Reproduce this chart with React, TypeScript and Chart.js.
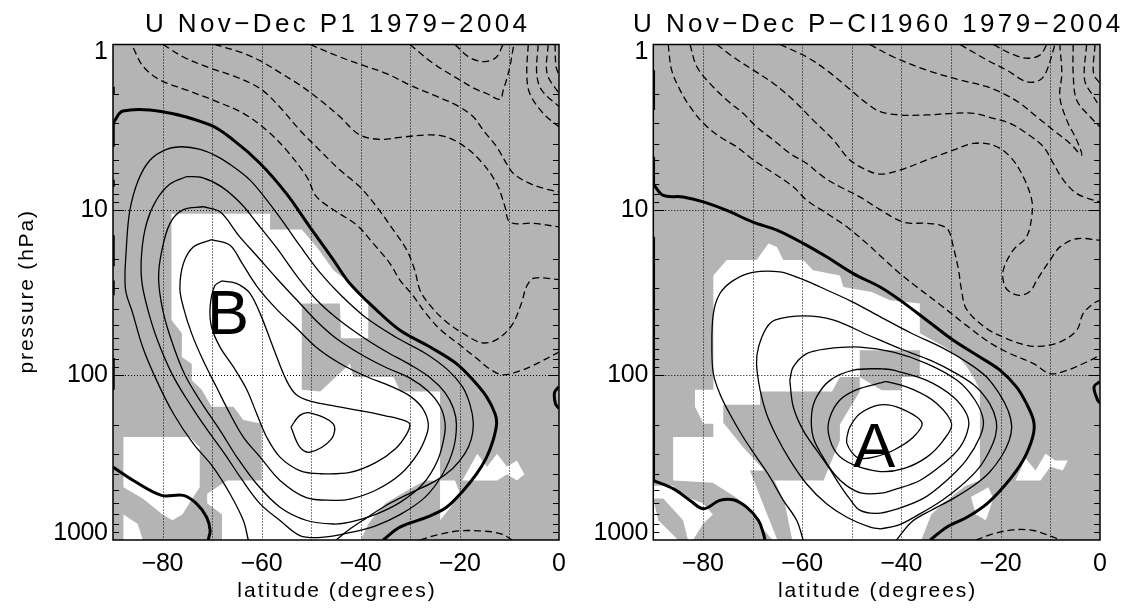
import React, { useEffect, useRef } from "react";
import { Chart, registerables } from "chart.js";
Chart.register(...registerables);

type Pt = [number, number]; // [latitude (deg), pressure (hPa)]
type Mark = { text: string; lat: number; p: number };

// ---------- axes ----------
const latLabels = [-80, -60, -40, -20, 0];
const latGrid = [-80, -70, -60, -50, -40, -30, -20, -10];
const presLabels = [1, 10, 100, 1000];
const presGrid = [10, 100];
const presMinor = [2, 3, 4, 5, 6, 7, 8, 9, 20, 30, 40, 50, 60, 70, 80, 90, 200, 300, 400, 500, 600, 700, 800, 900];

const title1 = "U Nov\u2212Dec P1 1979\u22122004";
const title2 = "U Nov\u2212Dec P\u2212CI1960 1979\u22122004";
const xTitle = "latitude (degrees)";
const yTitle = "pressure (hPa)";

// letters marking the jet maxima (baseline position)
const marks1: Mark[] = [{ text: "B", lat: -66.8, p: 56.3 }];
const marks2: Mark[] = [{ text: "A", lat: -45.5, p: 359 }];

// ---------- panel 1 (P1) ----------
const p1Zero: Pt[] = [[-90, 3.0], [-88, 2.53], [-80, 2.55], [-70.4, 3.07], [-65.7, 3.79], [-60.3, 5.25], [-55, 8], [-50.3, 12.7], [-45.5, 20.2], [-42.2, 28], [-36.8, 40.6], [-32.1, 53.7], [-26, 67.9], [-20.7, 85.5], [-17.3, 108], [-14.6, 136], [-12.9, 172], [-12.6, 198], [-13.3, 249], [-14.6, 315], [-16.6, 397], [-19.3, 501], [-22.7, 633], [-26.7, 728], [-32.1, 836], [-35.5, 1000]];
const p1ZeroLow: Pt[] = [[-90, 362], [-85.9, 436], [-80.2, 537], [-75.8, 537], [-73.1, 604], [-71.1, 728], [-70.4, 876], [-70.8, 1000]];
const p1ZeroEq: Pt[] = [[0, 118], [-0.9, 128], [-0.7, 150], [0, 160]];
const p1PoleSegs: Pt[] = [[1.8, 2.02], [3.0, 4.16], [6.6, 7.27], [14.3, 22], [26.8, 33], [79, 123]];

const p1Pos1: Pt[] = [[-62.7, 1000], [-63.7, 762], [-66.4, 525], [-69.8, 362], [-73.8, 261], [-77.8, 172], [-81.2, 108], [-84, 68], [-86, 42.6], [-87.5, 30], [-87.3, 17], [-86.6, 10.1], [-84.9, 6.63], [-82.5, 5.0], [-79.2, 4.32], [-76.1, 4.16], [-72.4, 4.32], [-69.1, 4.74], [-65.7, 5.5], [-62.4, 6.6], [-59.7, 8.2], [-56, 11.5], [-52, 17], [-48, 24.5], [-44, 33], [-39, 45], [-33, 59], [-27, 74], [-22.5, 93], [-19.5, 118], [-18, 150], [-17.3, 195], [-17.7, 245], [-19, 300], [-21.5, 370], [-25, 440], [-30, 520], [-35, 620], [-39, 740], [-42, 850], [-45, 1000]];
const p1Pos2: Pt[] = [[-75.1, 6.3], [-78.5, 7.0], [-81.3, 8.8], [-83.2, 12], [-84.2, 18], [-84.2, 27], [-83, 40], [-81, 62], [-78, 100], [-74.5, 150], [-71, 215], [-67.5, 300], [-64, 430], [-60.3, 604], [-56.3, 762], [-52.3, 940], [-48, 965], [-42, 900], [-37, 820], [-32, 700], [-27, 550], [-23.5, 400], [-21.3, 280], [-20.7, 200], [-21.3, 160], [-23, 128], [-26, 104], [-30, 87], [-35, 72], [-40, 58], [-45, 45], [-49, 35], [-53, 25], [-57, 17], [-61, 12], [-64, 9.3], [-68, 7.3], [-72, 6.4], [-75.1, 6.3]];
const p1Pos3: Pt[] = [[-71.8, 9.6], [-75.8, 10], [-78.5, 12.1], [-80.2, 18], [-80.8, 26], [-80, 40], [-78.2, 62], [-75.5, 100], [-72, 150], [-68.4, 217], [-65, 315], [-61, 458], [-56.3, 633], [-50.9, 762], [-45.5, 800], [-42.2, 780], [-37, 700], [-32, 590], [-27.5, 460], [-24.5, 330], [-23.2, 240], [-23, 195], [-24, 155], [-26.5, 125], [-30, 105], [-35, 90], [-40, 75], [-45, 60], [-49, 47], [-53, 35], [-57, 26], [-61, 19], [-64.5, 14.5], [-68.4, 10.3], [-71.8, 9.6]];
const p1Pos4: Pt[] = [[-70.1, 15.2], [-73.8, 16.8], [-75.8, 21.2], [-76.5, 30], [-75.8, 39], [-74.1, 56.5], [-71.8, 82], [-69.1, 119], [-66.4, 172], [-63.7, 238], [-60.3, 315], [-56.3, 436], [-51, 554], [-45.5, 575], [-42.2, 566], [-37, 500], [-32, 400], [-28.5, 300], [-26.7, 230], [-26.4, 195], [-27.5, 160], [-30, 135], [-34, 117], [-39, 102], [-44, 86], [-49, 68], [-53, 52], [-57, 40], [-61, 29], [-64, 21], [-66.4, 16.4], [-70.1, 15.2]];
const p1Pos5: Pt[] = [[-68.1, 27], [-69.5, 29], [-70.4, 38.9], [-70.1, 51.5], [-68.4, 67.9], [-65.7, 89.6], [-63, 123], [-61, 172], [-59, 238], [-56.3, 315], [-52.3, 380], [-48.2, 397], [-42.2, 390], [-37, 340], [-33, 280], [-30.8, 230], [-30.1, 200], [-31, 190], [-35, 177], [-40, 165], [-45, 155], [-50, 145], [-53, 132], [-55, 108], [-57.7, 68], [-60.3, 42.6], [-62.4, 32], [-64.5, 28.5], [-66, 27.5], [-68.1, 27]];
const p1Pos6: Pt[] = [[-54.1, 207], [-52.3, 176], [-50.25, 170], [-45.55, 198], [-45.9, 244], [-50.25, 294], [-52.3, 274], [-54.1, 207]];

const p1Neg1: Pt[] = [[-85.9, 1.05], [-83.9, 1.36], [-80.5, 1.64], [-75.1, 1.89], [-69.8, 2.17], [-63.7, 2.61], [-59, 3.3], [-55, 4.36], [-50.9, 6.33], [-48.9, 8.37], [-44.9, 10.3], [-40.8, 12.4], [-37.5, 16], [-34.1, 21.2], [-32.1, 26.7], [-29.5, 33], [-27, 42], [-24, 53], [-20, 66], [-16.5, 80], [-14, 92], [-11.5, 100], [-8.5, 96], [-5.2, 87.6], [0, 72.8]];
const p1Neg2: Pt[] = [[-79.9, 1.0], [-75.8, 1.19], [-70.4, 1.39], [-65.7, 1.55], [-60.3, 1.85], [-56.3, 2.4], [-52.3, 3.3], [-48.2, 4.4], [-44.2, 5.76], [-40.2, 7.27], [-36.8, 9.6], [-33.4, 13.3], [-30.7, 17.6], [-29.1, 23.3], [-28, 31], [-26, 38], [-23, 47], [-19, 57], [-15.5, 64], [-12.5, 61], [-9.5, 50], [-7.6, 37], [-6.5, 29], [-5, 26], [0, 26.5]];
const p1Neg3: Pt[] = [[-69.5, 1.0], [-64, 1.12], [-60, 1.27], [-56, 1.5], [-52.3, 1.76], [-48.2, 2.17], [-44.2, 2.74], [-40.2, 3.53], [-36.1, 3.75], [-32.1, 3.65], [-26.7, 3.53], [-23.4, 3.59], [-20, 3.97], [-16, 5.0], [-12.6, 6.94], [-10.9, 9.6], [-9.9, 11.9], [-5.2, 12.1], [0, 12.7]];
const p1Neg4: Pt[] = [[-50.2, 1.0], [-44.2, 1.19], [-38.8, 1.36], [-34.8, 1.5], [-30.1, 1.76], [-25.4, 2.02], [-20.7, 2.33], [-17.3, 2.74], [-15.3, 3.3], [-12.6, 4.16], [-10.6, 5.25], [-9.2, 6.03], [-5.9, 6.94], [-1.9, 7.6], [0, 7.8]];
const p1Neg5: Pt[] = [[-30.1, 1.0], [-25.4, 1.3], [-20, 1.64], [-17, 1.85], [-14.6, 1.98], [-11.9, 2.15], [-11.25, 1.89], [-10.6, 1.64], [-9.9, 1.36], [-9.2, 1.03], [-9.1, 1.0]];
const p1Neg6: Pt[] = [[-21, 1.0], [-18, 1.2], [-15, 1.27], [-12.6, 1.19], [-11.3, 1.0]];
const p1Neg7: Pt[] = [[-6.2, 1.0], [-6.5, 1.5], [-5.9, 1.98], [-3.2, 2.61], [0, 3.15]];
const p1Neg8: Pt[] = [[-4.2, 1.0], [-4.5, 1.5], [-3.5, 1.89], [0, 2.38]];
const p1Neg9: Pt[] = [[-2.2, 1.0], [-2.4, 1.5], [0, 1.98]];
const p1Neg10: Pt[] = [[-0.8, 1.0], [-0.6, 1.36], [0, 1.53]];
const p1Neg11: Pt[] = [[-28, 1000], [-24.5, 930], [-20, 880], [-15, 885], [-11.5, 920], [-9.5, 1000]];

const p1White1: Pt[] = [[-78.2, 10.6], [-58.3, 10.6], [-58.3, 13.2], [-51.9, 13.2], [-48.9, 16.8], [-45.5, 23.3], [-42.8, 27], [-40.5, 31], [-38.5, 35], [-38.5, 60], [-44, 60], [-44.2, 37], [-51.9, 37], [-51.9, 123], [-48.2, 126], [-43.5, 93.6], [-42.2, 85.5], [-41.5, 103], [-33.4, 103], [-32, 126], [-24, 126], [-24, 436], [-27, 436], [-29.5, 480], [-32, 530], [-35, 600], [-37, 700], [-38.5, 800], [-40, 1000], [-68, 1000], [-68, 700], [-71, 600], [-71, 525], [-67, 436], [-60, 436], [-60, 198], [-63.7, 188], [-65.7, 156], [-70.1, 156], [-72.1, 123], [-74.1, 108], [-74.1, 86], [-76.1, 78], [-76.1, 56], [-78.2, 46.6]];
const p1White2: Pt[] = [[-87.9, 238], [-74.5, 238], [-72.5, 274], [-72.5, 480], [-74, 560], [-76, 700], [-78, 760], [-80, 700], [-84, 560], [-87.9, 480]];
const p1White3: Pt[] = [[-87.9, 700], [-85, 800], [-84, 1000], [-87.9, 1000]];
const p1White4: Pt[] = [[-19.5, 436], [-16.5, 300], [-14.5, 360], [-12.5, 300], [-10.5, 360], [-8.5, 330], [-7, 400], [-8.5, 436], [-10.5, 400], [-12.5, 436]];
const p1White5: Pt[] = [[-24, 436], [-21, 436], [-20, 520], [-22, 640], [-24, 760]];

// ---------- panel 2 (P-CI1960) ----------
const p2Zero: Pt[] = [[-90, 7.0], [-88, 8.2], [-84, 8.37], [-79.9, 8.97], [-75.2, 10.1], [-69.9, 11.9], [-65.1, 13.3], [-59.8, 16], [-55.1, 19.3], [-49.7, 24.4], [-44.3, 29.4], [-40.3, 35.3], [-34.9, 46.7], [-29.55, 61.8], [-24.2, 78], [-20.1, 94], [-16.8, 118.6], [-14.8, 149.5], [-13.4, 188.7], [-13.4, 227], [-14.8, 300], [-16.8, 379], [-19.5, 479], [-22.8, 604], [-26.8, 728], [-30.9, 836], [-34.2, 1000]];
const p2ZeroLow: Pt[] = [[-90, 436], [-86, 489], [-82.6, 576], [-79.9, 647], [-76.6, 576], [-73.9, 571], [-71.2, 633], [-68.8, 762], [-67.8, 917], [-67.5, 1000]];
const p2ZeroEq: Pt[] = [[0, 110], [-1.2, 118], [-0.5, 142], [0, 148]];
const p2PoleSegs: Pt[] = [[1.43, 2.49], [4.78, 7.0], [14.6, 431]];

const p2Pos1: Pt[] = [[-59.8, 1000], [-61.1, 762], [-63.8, 575], [-66.5, 416], [-69.2, 315], [-71.9, 238], [-74.6, 172], [-76.6, 130], [-77.9, 98.5], [-78.2, 67.9], [-77.9, 42.6], [-76.6, 32.3], [-74, 27], [-70, 24], [-64.5, 23.8], [-60.4, 26.1], [-56.4, 29.4], [-50, 36], [-44, 45], [-38, 56], [-32, 68], [-27, 83], [-23, 102], [-20.3, 130], [-18.5, 165], [-17.8, 205], [-18.3, 250], [-19.8, 310], [-22.3, 390], [-25.5, 470], [-29.5, 560], [-34, 660], [-38, 780], [-41, 1000]];
const p2Pos2: Pt[] = [[-44.3, 857], [-46.3, 836], [-51, 728], [-55.1, 604], [-59.1, 458], [-62.5, 327], [-65.1, 238], [-67.2, 172], [-68.5, 123], [-69.2, 85.5], [-68.8, 67.9], [-67.2, 52], [-65.4, 46.5], [-59.6, 44], [-53.8, 46.5], [-46.5, 57.8], [-40, 70], [-34, 82], [-29, 98], [-25, 118], [-22.2, 150], [-20.9, 190], [-21, 230], [-22.3, 290], [-24.5, 370], [-28, 470], [-32, 580], [-36.5, 700], [-40.5, 810], [-44.3, 857]];
const p2Pos3: Pt[] = [[-62.5, 108], [-61.8, 156], [-59.8, 217], [-57.1, 286], [-54.5, 370], [-52.5, 460], [-50.5, 560], [-48.4, 660], [-45, 690], [-41, 650], [-35.6, 560], [-30.9, 436], [-26.9, 327], [-24.2, 238], [-23.5, 189], [-25.2, 142], [-28.8, 108], [-34.9, 85.5], [-41.6, 72.8], [-48.4, 67.9], [-55.1, 69.6], [-59.1, 74.4], [-61.8, 89.6], [-62.5, 108]];
const p2Pos4: Pt[] = [[-44.3, 91.6], [-49.7, 93.8], [-54.4, 108], [-57.1, 136], [-58.1, 172], [-57.8, 238], [-55.8, 315], [-53.5, 400], [-51, 470], [-48, 520], [-44, 520], [-41.6, 497], [-36.3, 436], [-31.6, 346], [-28.2, 274], [-26.5, 207], [-26.9, 172], [-29.55, 136], [-34.9, 108], [-41.6, 93.8], [-44.3, 91.6]];
const p2Pos5: Pt[] = [[-44.3, 112], [-49, 123], [-52.4, 142], [-54.4, 180], [-54.7, 227], [-53, 300], [-49.7, 350], [-44.3, 385], [-39.6, 370], [-34.9, 315], [-31.6, 250], [-29.9, 198], [-32.9, 149], [-37.6, 123], [-43, 110], [-44.3, 112]];
const p2Pos6: Pt[] = [[-51, 238], [-50.4, 207], [-48.4, 172], [-44.3, 152], [-40.3, 159], [-35.9, 194], [-37.6, 238], [-41.6, 286], [-45.6, 315], [-48.5, 320], [-50, 295], [-51, 260], [-51, 238]];

const p2Neg1: Pt[] = [[-87, 1.0], [-86.3, 1.43], [-84.6, 1.89], [-82.6, 2.38], [-79.9, 3.0], [-76.6, 3.62], [-73.2, 4.16], [-69.85, 5.0], [-65.8, 6.0], [-61.8, 7.27], [-59.1, 8.76], [-55.1, 10.5], [-51, 12.7], [-47, 16], [-44.3, 19], [-40.3, 24.4], [-36.9, 29.4], [-32, 38], [-27, 50], [-22.5, 63], [-18.8, 72.8], [-13.4, 85.5], [-10, 98.4], [-6.7, 94], [-2.7, 83.6], [0, 76.2]];
const p2Neg2: Pt[] = [[-82.6, 1.0], [-81.25, 1.36], [-78.6, 1.72], [-75.2, 2.17], [-71.9, 2.61], [-69.2, 3.15], [-65.8, 3.79], [-62.5, 4.56], [-59.1, 5.25], [-55.75, 6.33], [-52.4, 7.27], [-48.4, 8.37], [-44.3, 10], [-39.6, 11.9], [-34.9, 12.1], [-32.2, 12.4], [-30.55, 13.3], [-29.55, 16.8], [-28.5, 23.2], [-27.9, 30.7], [-26.9, 40], [-23, 52], [-19, 60], [-15, 66], [-12.1, 67.2], [-8.1, 63.3], [-4.7, 53.8], [-3.4, 42.6], [-1.3, 37], [0, 35.3]];
const p2Neg3: Pt[] = [[-77.2, 1.0], [-73.9, 1.19], [-69.85, 1.43], [-65.8, 1.72], [-61.8, 2.17], [-57.8, 2.87], [-53.7, 3.79], [-50.4, 5.0], [-47, 5.76], [-44.3, 6.1], [-40.3, 5.76], [-34.9, 5.0], [-29.55, 4.36], [-25.5, 3.97], [-21.5, 4.07], [-18.1, 4.78], [-15.45, 6.33], [-13.75, 8.76], [-13.75, 11], [-14.8, 14.6], [-17.5, 17.6], [-19.5, 23.3], [-19.2, 29], [-17.8, 32], [-16, 33], [-14, 31], [-12.75, 26.8], [-10.05, 20.2], [-8.05, 16.8], [-4.7, 15], [0, 15.3]];
const p2Neg4: Pt[] = [[-64.5, 1.0], [-59.1, 1.19], [-55.1, 1.43], [-51, 1.8], [-47, 2.27], [-44.3, 2.55], [-40.3, 2.67], [-34.9, 2.67], [-29.55, 2.61], [-25.5, 2.61], [-21.5, 2.8], [-18.1, 3.0], [-14.8, 3.45], [-11.4, 4.16], [-9.4, 5.25], [-7.4, 6.6], [-4.7, 7.98], [-1.3, 8.76], [0, 8.97]];
const p2Neg5: Pt[] = [[-46.4, 1.0], [-41.6, 1.19], [-34.9, 1.43], [-28.2, 1.64], [-22.8, 1.8], [-19.5, 1.98], [-16.1, 2.27], [-12.75, 2.74], [-9.4, 3.3], [-6.05, 3.97], [-3.7, 4.67], [-4.7, 3.79], [-6.7, 2.87], [-8.1, 2.07], [-7.7, 1.5], [-8.1, 1.0]];
const p2Neg6: Pt[] = [[-28.2, 1.0], [-22.8, 1.24], [-18.8, 1.43], [-14.8, 1.68], [-12.1, 1.64], [-10.7, 1.43], [-9.4, 1.08], [-9.1, 1.0]];
const p2Neg7: Pt[] = [[-21.5, 1.0], [-18.1, 1.13], [-14.8, 1.21], [-12.1, 1.16], [-10.7, 1.0]];
const p2Neg8: Pt[] = [[-5.4, 1.0], [-5.4, 1.5], [-4.7, 2.17], [-2.0, 2.74], [0, 3.15]];
const p2Neg9: Pt[] = [[-2.7, 1.0], [-3.1, 1.64], [-1.3, 2.07], [0, 2.38]];
const p2Neg10: Pt[] = [[-1.0, 1.0], [-1.3, 1.5], [0, 1.72]];
const p2Neg11: Pt[] = [[-25, 1000], [-21.5, 917], [-17.5, 868], [-13.4, 876], [-9.4, 962], [-8, 1000]];

const p2White1: Pt[] = [[-77.9, 25], [-75.2, 20.2], [-69.2, 20.2], [-66.8, 16], [-65.1, 16.8], [-63.8, 20.2], [-59.8, 20.2], [-57.8, 23.3], [-52.4, 25], [-51.7, 29.4], [-46, 31.5], [-42.3, 35.3], [-36.3, 37], [-36.3, 56], [-32, 66], [-29, 75], [-27, 88], [-25.5, 103], [-24.2, 124], [-24.2, 436], [-27, 470], [-29, 520], [-31.5, 600], [-34, 700], [-36, 1000], [-66, 1000], [-68, 850], [-70, 700], [-73, 560], [-78, 450], [-86, 436], [-86, 238], [-77.9, 238], [-77.9, 198], [-79.9, 198], [-81.6, 156], [-81.6, 123], [-77.9, 123]];
const p2White2: Pt[] = [[-90, 470], [-86, 470], [-84, 540], [-80, 600], [-78, 700], [-80, 800], [-82, 1000], [-90, 1000]];
const p2White3: Pt[] = [[-17, 436], [-15, 320], [-13, 380], [-11, 300], [-9, 330], [-6.5, 330], [-7.5, 380], [-10, 360], [-12, 436]];
const p2White4: Pt[] = [[-26, 550], [-22.5, 480], [-21.5, 560], [-23, 760], [-25, 700]];
const p2Gray1: Pt[] = [[-68.5, 126], [-54, 126], [-52.4, 103], [-48.4, 103], [-48.4, 126], [-52.4, 200], [-52.4, 250], [-55.7, 436], [-65.8, 436], [-71.9, 274], [-75.9, 195], [-75.9, 152], [-68.5, 152]];
const p2Gray2: Pt[] = [[-48.4, 71], [-36.3, 71], [-36.3, 103], [-40, 103], [-40, 124], [-44, 124], [-48.4, 103]];
const p2Gray3: Pt[] = [[-90, 560], [-88, 560], [-84, 760], [-83, 1000], [-85, 1000], [-89, 760]];
const p2Gray4: Pt[] = [[-70.5, 380], [-66.5, 380], [-63.5, 600], [-62, 1000], [-65, 1000], [-67.5, 650]];

// ---------- rendering ----------
const GRAY = "#b4b4b4";
const FONT = "'Liberation Sans', Arial, sans-serif";

type Kind = "zero" | "pos" | "neg" | "white" | "gray";
type Layer = { pts: Pt[]; kind: Kind };

function poleLine(segs: Pt[]) {
  const out: { x: number; y: number | null }[] = [];
  segs.forEach(([a, b]) => {
    out.push({ x: -90, y: a }, { x: -90, y: b }, { x: -90, y: null });
  });
  return out;
}

function buildDatasets(layers: Layer[], pole: Pt[]) {
  const ds: any[] = layers.map((l) => {
    const data = l.pts.map(([x, y]) => ({ x, y }));
    if (l.kind === "white" || l.kind === "gray") {
      return {
        data, fill: "shape", backgroundColor: l.kind === "white" ? "#ffffff" : GRAY,
        borderColor: "rgba(0,0,0,0)", borderWidth: 0, pointRadius: 0, tension: 0,
        order: l.kind === "white" ? 5 : 4,
      };
    }
    return {
      data, fill: false, borderColor: "#000", pointRadius: 0, tension: 0.35,
      borderWidth: l.kind === "zero" ? 3 : 1.3,
      borderDash: l.kind === "neg" ? [7, 4] : [],
      order: 1,
    };
  });
  ds.push({ data: poleLine(pole), fill: false, borderColor: "#000", borderWidth: 3.5, pointRadius: 0, tension: 0, spanGaps: false, order: 1 });
  return ds;
}

function spacedText(ctx: CanvasRenderingContext2D, text: string, x: number, y: number, font: string, align: "left" | "center" | "right", spacing: number) {
  ctx.save();
  ctx.font = font;
  (ctx as any).letterSpacing = spacing + "px";
  const w = ctx.measureText(text).width - spacing;
  let x0 = x;
  if (align === "center") x0 = x - w / 2;
  if (align === "right") x0 = x - w;
  ctx.textAlign = "left";
  ctx.fillStyle = "#000";
  ctx.fillText(text, x0, y);
  ctx.restore();
}

function makePlugin(title: string, showYTitle: boolean, marks: Mark[]) {
  return {
    id: "frame",
    beforeDatasetsDraw(chart: any) {
      const { ctx, chartArea: a } = chart;
      ctx.save();
      ctx.fillStyle = GRAY;
      ctx.fillRect(a.left, a.top, a.right - a.left, a.bottom - a.top);
      ctx.restore();
    },
    afterDatasetsDraw(chart: any) {
      const { ctx, chartArea: a, scales } = chart;
      const xs = scales.x, ys = scales.y;
      ctx.save();
      ctx.strokeStyle = "#000";
      ctx.lineWidth = 1;
      ctx.setLineDash([1, 2]);
      latGrid.forEach((v) => {
        const px = Math.round(xs.getPixelForValue(v)) + 0.5;
        ctx.beginPath(); ctx.moveTo(px, a.top); ctx.lineTo(px, a.bottom); ctx.stroke();
      });
      presGrid.forEach((v) => {
        const py = Math.round(ys.getPixelForValue(v)) + 0.5;
        ctx.beginPath(); ctx.moveTo(a.left, py); ctx.lineTo(a.right, py); ctx.stroke();
      });
      ctx.setLineDash([]);
      presMinor.forEach((v) => {
        const py = Math.round(ys.getPixelForValue(v)) + 0.5;
        ctx.beginPath(); ctx.moveTo(a.left, py); ctx.lineTo(a.left + 6, py); ctx.stroke();
        ctx.beginPath(); ctx.moveTo(a.right, py); ctx.lineTo(a.right - 6, py); ctx.stroke();
      });
      presGrid.forEach((v) => {
        const py = Math.round(ys.getPixelForValue(v)) + 0.5;
        ctx.beginPath(); ctx.moveTo(a.left, py); ctx.lineTo(a.left + 11, py); ctx.stroke();
        ctx.beginPath(); ctx.moveTo(a.right, py); ctx.lineTo(a.right - 11, py); ctx.stroke();
      });
      ctx.lineWidth = 1.5;
      ctx.strokeRect(a.left, a.top, a.right - a.left, a.bottom - a.top);
      // jet-maximum letters
      marks.forEach((m) => {
        ctx.save();
        ctx.font = `63px ${FONT}`;
        ctx.textAlign = "center";
        ctx.textBaseline = "alphabetic";
        ctx.fillStyle = "#000";
        ctx.fillText(m.text, xs.getPixelForValue(m.lat), ys.getPixelForValue(m.p));
        ctx.restore();
      });
      ctx.restore();
    },
    afterDraw(chart: any) {
      const { ctx, chartArea: a, scales } = chart;
      const xs = scales.x, ys = scales.y;
      const cx = (a.left + a.right) / 2;
      spacedText(ctx, title, cx, 32, `26px ${FONT}`, "center", 3.4);
      latLabels.forEach((v) => {
        const lab = v < 0 ? "\u2212" + Math.abs(v) : String(v);
        spacedText(ctx, lab, xs.getPixelForValue(v), 571, `25px ${FONT}`, "center", -0.3);
      });
      presLabels.forEach((v) => {
        let py = ys.getPixelForValue(v);
        py = Math.min(Math.max(py, a.top + 8), a.bottom - 7);
        ctx.save();
        ctx.textBaseline = "middle";
        spacedText(ctx, String(v), a.left - 5, py, `25px ${FONT}`, "right", -0.3);
        ctx.restore();
      });
      spacedText(ctx, xTitle, cx, 597, `21px ${FONT}`, "center", 2.0);
      if (showYTitle) {
        ctx.save();
        ctx.translate(33, (a.top + a.bottom) / 2);
        ctx.rotate(-Math.PI / 2);
        spacedText(ctx, yTitle, 0, 0, `21px ${FONT}`, "center", 1.8);
        ctx.restore();
      }
    },
  };
}

function makeChart(canvas: HTMLCanvasElement, layers: Layer[], pole: Pt[], title: string, showY: boolean, marks: Mark[], pad: any) {
  return new Chart(canvas, {
    type: "line",
    data: { datasets: buildDatasets(layers, pole) },
    options: {
      animation: false,
      responsive: false,
      maintainAspectRatio: false,
      layout: { padding: pad },
      scales: {
        x: { type: "linear", min: -90, max: 0, display: false },
        y: { type: "logarithmic", min: 1, max: 1000, reverse: true, display: false },
      },
      plugins: { legend: { display: false }, tooltip: { enabled: false }, title: { display: false } },
      elements: { point: { radius: 0 } },
    } as any,
    plugins: [makePlugin(title, showY, marks) as any],
  });
}

const panel1Layers: Layer[] = [
  { pts: p1White1, kind: "white" }, { pts: p1White2, kind: "white" }, { pts: p1White3, kind: "white" },
  { pts: p1White4, kind: "white" }, { pts: p1White5, kind: "white" },
  { pts: p1Zero, kind: "zero" }, { pts: p1ZeroLow, kind: "zero" }, { pts: p1ZeroEq, kind: "zero" },
  { pts: p1Pos1, kind: "pos" }, { pts: p1Pos2, kind: "pos" }, { pts: p1Pos3, kind: "pos" },
  { pts: p1Pos4, kind: "pos" }, { pts: p1Pos5, kind: "pos" }, { pts: p1Pos6, kind: "pos" },
  { pts: p1Neg1, kind: "neg" }, { pts: p1Neg2, kind: "neg" }, { pts: p1Neg3, kind: "neg" },
  { pts: p1Neg4, kind: "neg" }, { pts: p1Neg5, kind: "neg" }, { pts: p1Neg6, kind: "neg" },
  { pts: p1Neg7, kind: "neg" }, { pts: p1Neg8, kind: "neg" }, { pts: p1Neg9, kind: "neg" },
  { pts: p1Neg10, kind: "neg" }, { pts: p1Neg11, kind: "neg" },
];
const panel2Layers: Layer[] = [
  { pts: p2White1, kind: "white" }, { pts: p2White2, kind: "white" }, { pts: p2White3, kind: "white" },
  { pts: p2White4, kind: "white" },
  { pts: p2Gray1, kind: "gray" }, { pts: p2Gray2, kind: "gray" }, { pts: p2Gray3, kind: "gray" }, { pts: p2Gray4, kind: "gray" },
  { pts: p2Zero, kind: "zero" }, { pts: p2ZeroLow, kind: "zero" }, { pts: p2ZeroEq, kind: "zero" },
  { pts: p2Pos1, kind: "pos" }, { pts: p2Pos2, kind: "pos" }, { pts: p2Pos3, kind: "pos" },
  { pts: p2Pos4, kind: "pos" }, { pts: p2Pos5, kind: "pos" }, { pts: p2Pos6, kind: "pos" },
  { pts: p2Neg1, kind: "neg" }, { pts: p2Neg2, kind: "neg" }, { pts: p2Neg3, kind: "neg" },
  { pts: p2Neg4, kind: "neg" }, { pts: p2Neg5, kind: "neg" }, { pts: p2Neg6, kind: "neg" },
  { pts: p2Neg7, kind: "neg" }, { pts: p2Neg8, kind: "neg" }, { pts: p2Neg9, kind: "neg" },
  { pts: p2Neg10, kind: "neg" }, { pts: p2Neg11, kind: "neg" },
];

export default function App() {
  const ref1 = useRef<HTMLCanvasElement>(null);
  const ref2 = useRef<HTMLCanvasElement>(null);
  useEffect(() => {
    const c1 = makeChart(ref1.current!, panel1Layers, p1PoleSegs, title1, true, marks1, { left: 113, top: 44.5, right: 566, bottom: 72 });
    const c2 = makeChart(ref2.current!, panel2Layers, p2PoleSegs, title2, false, marks2, { left: 653.3, top: 44.5, right: 25, bottom: 72 });
    return () => { c1.destroy(); c2.destroy(); };
  }, []);
  return (
    <div style={{ position: "fixed", left: 0, top: 0, width: 1125, height: 612, background: "#fff" }}>
      <canvas ref={ref1} width={1125} height={612} style={{ position: "absolute", left: 0, top: 0, width: 1125, height: 612 }} />
      <canvas ref={ref2} width={1125} height={612} style={{ position: "absolute", left: 0, top: 0, width: 1125, height: 612 }} />
    </div>
  );
}
